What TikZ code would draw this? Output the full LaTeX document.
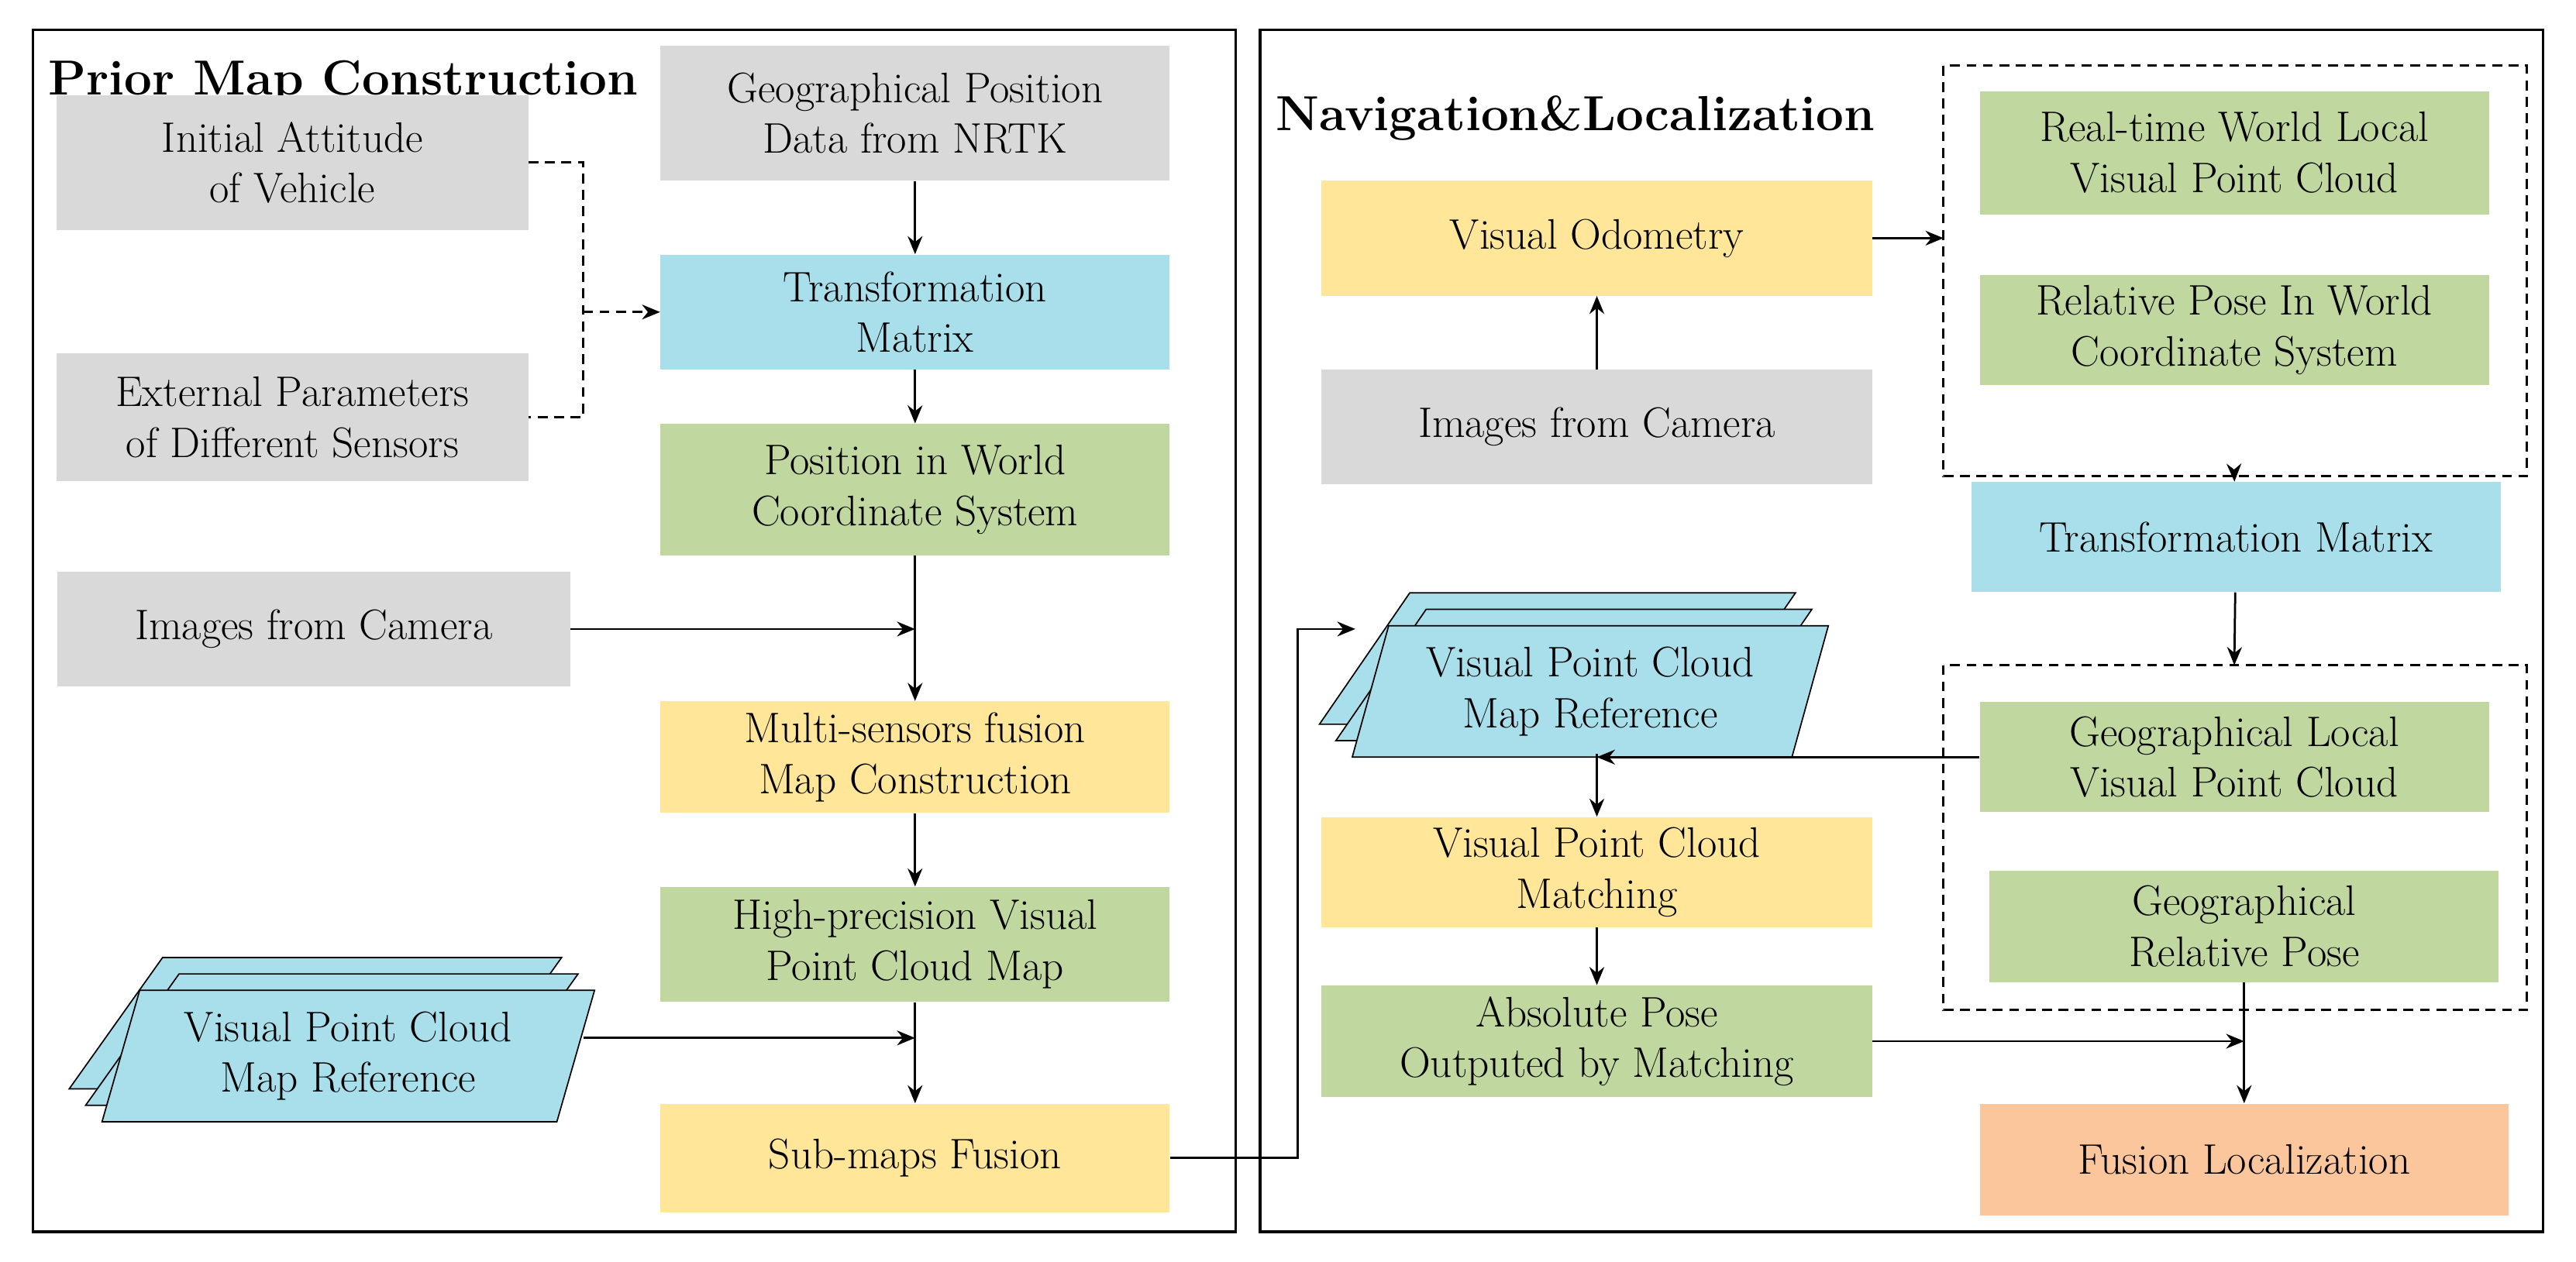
\documentclass[tikz,border=0pt]{standalone}
\usetikzlibrary{shapes.geometric,arrows.meta}
\begin{document}
\definecolor{cg}{HTML}{D9D9D9}\definecolor{cb}{HTML}{A9DFEA}\definecolor{cgr}{HTML}{C0D79F}
\definecolor{cy}{HTML}{FFE699}\definecolor{co}{HTML}{FBC69B}
\begin{tikzpicture}[x=1pt,y=-1pt,
 box/.style={draw=none,align=center,font=\fontsize{26}{31}\selectfont,inner sep=0},
 arr/.style={-{Stealth[length=11pt,width=9pt]},line width=1.3pt},
 dsh/.style={dashed,line width=1.3pt,dash pattern=on 6pt off 4pt},
 par/.style={trapezium,trapezium left angle=73,trapezium right angle=107,trapezium stretches=true,draw=black,line width=0.8pt,fill=cb,minimum width=300,minimum height=80,align=center,font=\fontsize{26}{31}\selectfont}]
\useasboundingbox (0,0) rectangle (1568,768);
\draw[line width=1.5pt] (20,18) rectangle (752,750);
\draw[line width=1.5pt] (767,18) rectangle (1548,750);
\node[anchor=west,font=\fontsize{30}{34}\selectfont\bfseries] (t1) at (26,50) {Prior Map Construction};
\node[anchor=west,font=\fontsize{30}{34}\selectfont\bfseries] (t2) at (773,72) {Navigation\&Localization};
% left
\node[box,fill=cg,minimum width=310,minimum height=82] (nrtk) at (557,69) {Geographical Position\\Data from NRTK};
\node[box,fill=cg,minimum width=287,minimum height=82] (ia) at (178,99) {Initial Attitude\\of Vehicle};
\node[box,fill=cb,minimum width=310,minimum height=70] (tm) at (557,190) {Transformation\\Matrix};
\node[box,fill=cg,minimum width=287,minimum height=78] (ep) at (178,254) {External Parameters\\of Different Sensors};
\node[box,fill=cgr,minimum width=310,minimum height=80] (pw) at (557,298) {Position in World\\Coordinate System};
\node[box,fill=cg,minimum width=312,minimum height=70] (ic) at (191,383) {Images from Camera};
\node[box,fill=cy,minimum width=310,minimum height=68] (ms) at (557,461) {Multi-sensors fusion\\Map Construction};
\node[box,fill=cgr,minimum width=310,minimum height=70] (hp) at (557,575) {High-precision Visual\\Point Cloud Map};
\node[par] (vr3) at (192,623) {};
\node[par] (vr2) at (202,633) {};
\node[par] (vr) at (212,643) {Visual Point Cloud\\Map Reference};
\node[box,fill=cy,minimum width=310,minimum height=66] (sm) at (557,705) {Sub-maps Fusion};
\coordinate (dj) at (355,190);
\draw[dsh] (ia.east) -| (dj) |- (ep.east);
\draw[arr,dsh] (dj) -- (tm.west);
\draw[arr] (nrtk) -- (tm);
\draw[arr] (tm) -- (pw);
\draw[arr] (pw) -- (ms);
\draw[arr] (ic.east) -- (557,383);
\draw[arr] (ms) -- (hp);
\draw[arr] (hp) -- (sm);
\draw[arr] (355,632) -- (557,632);
% right
\node[box,fill=cy,minimum width=335,minimum height=70] (vo) at (972,145) {Visual Odometry};
\node[box,fill=cg,minimum width=335,minimum height=70] (ic2) at (972,260) {Images from Camera};
\node[box,fill=cgr,minimum width=310,minimum height=75] (rt) at (1360,93) {Real-time World Local\\Visual Point Cloud};
\node[box,fill=cgr,minimum width=310,minimum height=67] (rp) at (1360,201) {Relative Pose In World\\Coordinate System};
\draw[dsh] (1183,40) rectangle (1538,290);
\coordinate (b1s) at (1360,290);\coordinate (b1w) at (1183,145);
\node[box,fill=cb,minimum width=322,minimum height=67] (tm2) at (1361,327) {Transformation Matrix};
\draw[dsh] (1183,405) rectangle (1538,615);
\coordinate (b2n) at (1360,405);
\node[box,fill=cgr,minimum width=310,minimum height=67] (gl) at (1360,461) {Geographical Local\\Visual Point Cloud};
\node[box,fill=cgr,minimum width=310,minimum height=68] (gr) at (1366,564) {Geographical\\Relative Pose};
\node[par,minimum width=290] (sr3) at (948,401) {};
\node[par,minimum width=290] (sr2) at (958,411) {};
\node[par,minimum width=290] (sr) at (968,421) {Visual Point Cloud\\Map Reference};
\node[box,fill=cy,minimum width=335,minimum height=67] (mt) at (972,531) {Visual Point Cloud\\Matching};
\node[box,fill=cgr,minimum width=335,minimum height=68] (ab) at (972,634) {Absolute Pose\\Outputed by Matching};
\node[box,fill=co,minimum width=322,minimum height=68] (fl) at (1366,706) {Fusion Localization};
\draw[arr] (ic2) -- (vo);
\draw[arr] (vo.east) -- (b1w);
\draw[arr] (b1s) -- (tm2);
\draw[arr] (tm2) -- (b2n);
\draw[arr] (gl.west) -- (972,461);
\draw[arr] (972,459) -- (mt);
\draw[arr] (mt) -- (ab);
\draw[arr] (ab.east) -- (1366,634);
\draw[arr] (gr) -- (fl);
\draw[arr] (sm.east) -- (790,705) -- (790,383) -- (825,383);
\end{tikzpicture}
\end{document}
